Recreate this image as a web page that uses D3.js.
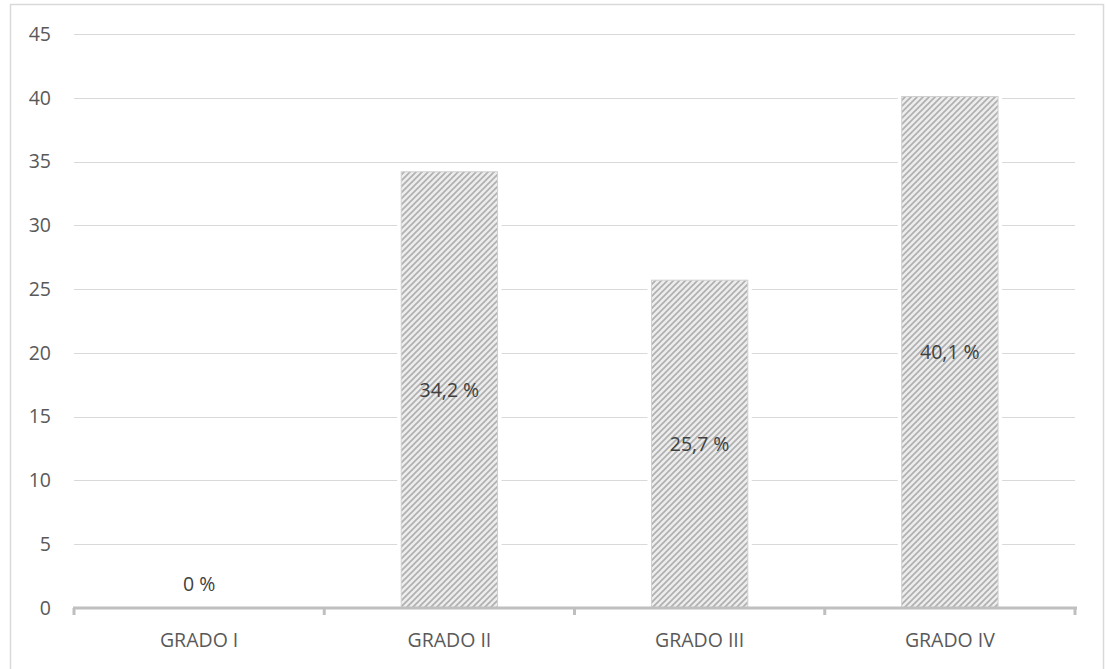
<!DOCTYPE html>
<html>
<head>
<meta charset="utf-8">
<script src="https://cdn.jsdelivr.net/npm/d3@7"></script>
<style>
  html, body { margin: 0; padding: 0; background: #fff; }
  svg { display: block; font-family: "Open Sans", "Liberation Sans", sans-serif; }
</style>
</head>
<body>
<svg id="chart" width="1106" height="669"></svg>
<script>
// Distribution by grade (percent)
const categories = ["GRADO I", "GRADO II", "GRADO III", "GRADO IV"];
const values = [0, 34.2, 25.7, 40.1];
const valueLabels = ["0 %", "34,2 %", "25,7 %", "40,1 %"];
const yTicks = [0, 5, 10, 15, 20, 25, 30, 35, 40, 45];

const svg = d3.select("#chart");
const plot = { left: 74, right: 1075, top: 34, bottom: 608 };
const FONT = 19.5;

// Outer frame
svg.append("rect")
  .attr("x", 10.5).attr("y", 4.5)
  .attr("width", 1093).attr("height", 700)
  .attr("fill", "none").attr("stroke", "#d9d9d9").attr("stroke-width", 1.5);

// Diagonal hatch fill for the bars
const defs = svg.append("defs");
const pat = defs.append("pattern")
  .attr("id", "hatch")
  .attr("patternUnits", "userSpaceOnUse")
  .attr("width", 6).attr("height", 6);
pat.append("rect").attr("width", 6).attr("height", 6).attr("fill", "#ededed");
pat.append("path")
  .attr("d", "M-1,1 l2,-2 M0,6 l6,-6 M5,7 l2,-2")
  .attr("stroke", "#b0b0b0").attr("stroke-width", 1.7);

const blur = defs.append("filter").attr("id", "soft")
  .attr("x", "-10%").attr("y", "-10%").attr("width", "120%").attr("height", "120%");
blur.append("feGaussianBlur").attr("stdDeviation", 0.6);

const x = d3.scaleBand()
  .domain(categories)
  .range([plot.left, plot.right])
  .paddingInner(0.615).paddingOuter(0.3075);

const y = d3.scaleLinear().domain([0, 45]).range([plot.bottom, plot.top]);

// Gridlines
svg.append("g")
  .selectAll("line")
  .data(yTicks.filter(d => d > 0))
  .join("line")
  .attr("x1", plot.left).attr("x2", plot.right)
  .attr("y1", d => Math.round(y(d)) + 0.5).attr("y2", d => Math.round(y(d)) + 0.5)
  .attr("stroke", "#d9d9d9").attr("stroke-width", 1);

// Y tick labels
svg.append("g")
  .selectAll("text")
  .data(yTicks)
  .join("text")
  .attr("x", 51).attr("y", d => y(d))
  .attr("dy", "0.35em")
  .attr("text-anchor", "end")
  .attr("font-size", FONT)
  .attr("fill", "#595959")
  .text(d => d);

const barData = values.map((v, i) => ({ c: categories[i], v, t: valueLabels[i] }));

// White halo behind each bar so gridlines stop short of it
svg.append("g")
  .selectAll("rect")
  .data(barData.filter(d => d.v > 0))
  .join("rect")
  .attr("x", d => x(d.c) - 4)
  .attr("y", d => y(d.v) - 2)
  .attr("width", x.bandwidth() + 8)
  .attr("height", d => y(0) - y(d.v) + 2)
  .attr("fill", "#fff");

// Bars
svg.append("g")
  .selectAll("rect")
  .data(barData)
  .join("rect")
  .attr("x", d => x(d.c))
  .attr("y", d => y(d.v))
  .attr("width", x.bandwidth())
  .attr("height", d => y(0) - y(d.v))
  .attr("fill", "url(#hatch)")
  .attr("stroke", "#d0d0d0").attr("stroke-width", 1)
  .attr("filter", "url(#soft)");

// Category axis
const axisY = plot.bottom;
svg.append("line")
  .attr("x1", plot.left - 1).attr("x2", plot.right + 2)
  .attr("y1", axisY).attr("y2", axisY)
  .attr("stroke", "#bfbfbf").attr("stroke-width", 3);

const boundaries = categories.map(c => x(c) - x.step() * x.paddingInner() / 2);
boundaries[0] = plot.left;
boundaries.push(plot.right);
svg.append("g")
  .selectAll("line")
  .data(boundaries)
  .join("line")
  .attr("x1", d => d).attr("x2", d => d)
  .attr("y1", axisY).attr("y2", axisY + 7)
  .attr("stroke", "#bfbfbf").attr("stroke-width", 3);

svg.append("g")
  .selectAll("text")
  .data(categories)
  .join("text")
  .attr("x", d => x(d) + x.bandwidth() / 2)
  .attr("y", 640)
  .attr("dy", "0.35em")
  .attr("text-anchor", "middle")
  .attr("font-size", FONT)
  .attr("fill", "#595959")
  .text(d => d);

// Value labels, centred in each bar (above the axis when the bar is empty)
svg.append("g")
  .selectAll("text")
  .data(barData)
  .join("text")
  .attr("x", d => x(d.c) + x.bandwidth() / 2)
  .attr("y", d => d.v > 0 ? y(d.v / 2) : y(0) - 24)
  .attr("dy", "0.35em")
  .attr("text-anchor", "middle")
  .attr("font-size", FONT)
  .attr("fill", "#404040")
  .text(d => d.t);
</script>
</body>
</html>
